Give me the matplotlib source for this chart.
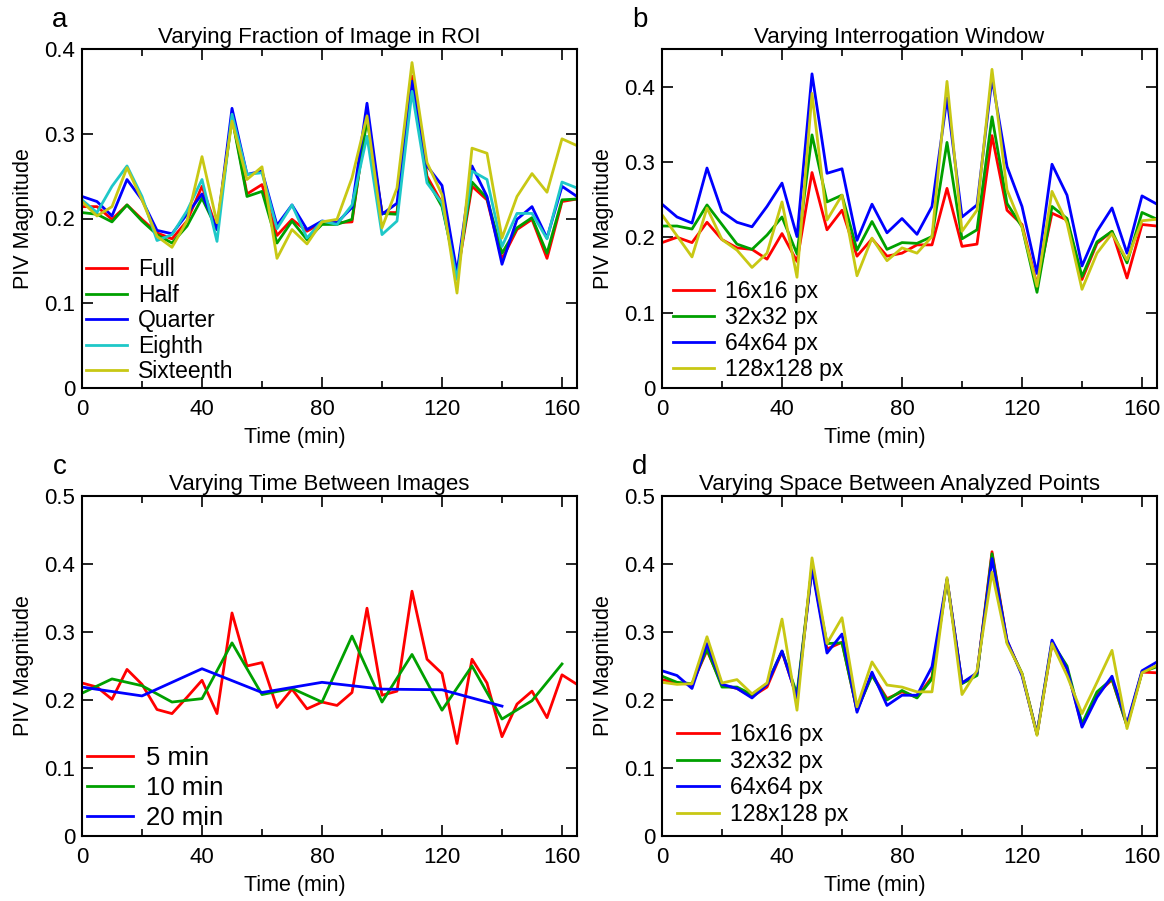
import matplotlib.pyplot as plt
from matplotlib.ticker import MultipleLocator, FuncFormatter

plt.rcParams['font.family'] = ['Liberation Sans', 'DejaVu Sans']

# Время, мин
time_5 = [0, 5, 10, 15, 20, 25, 30, 35, 40, 45, 50, 55, 60, 65, 70, 75, 80,
          85, 90, 95, 100, 105, 110, 115, 120, 125, 130, 135, 140, 145, 150, 155, 160, 165]
time_10 = [0, 10, 20, 30, 40, 50, 60, 70, 80, 90, 100, 110, 120, 130, 140, 150, 160]
time_20 = [0, 20, 40, 60, 80, 100, 120, 140]

# a: доля изображения в ROI
roi_full = [0.214, 0.214, 0.199, 0.216, 0.199, 0.183, 0.176, 0.197, 0.238, 0.187, 0.321, 0.229, 0.240, 0.180, 0.199, 0.185, 0.195,
            0.195, 0.196, 0.321, 0.207, 0.207, 0.368, 0.250, 0.218, 0.132, 0.238, 0.222, 0.152, 0.187, 0.199, 0.153, 0.220, 0.223]
roi_half = [0.207, 0.205, 0.196, 0.216, 0.197, 0.181, 0.171, 0.191, 0.224, 0.187, 0.319, 0.226, 0.232, 0.171, 0.197, 0.175, 0.193,
            0.193, 0.199, 0.317, 0.206, 0.205, 0.362, 0.246, 0.214, 0.134, 0.243, 0.224, 0.159, 0.189, 0.201, 0.159, 0.222, 0.223]
roi_quarter = [0.226, 0.220, 0.203, 0.246, 0.222, 0.186, 0.182, 0.205, 0.229, 0.187, 0.330, 0.252, 0.256, 0.192, 0.216, 0.187, 0.197,
               0.195, 0.213, 0.336, 0.205, 0.218, 0.362, 0.262, 0.239, 0.136, 0.262, 0.226, 0.146, 0.199, 0.214, 0.177, 0.238, 0.226]
roi_eighth = [0.222, 0.207, 0.238, 0.262, 0.226, 0.174, 0.181, 0.209, 0.246, 0.173, 0.323, 0.252, 0.254, 0.188, 0.216, 0.177, 0.197,
              0.193, 0.216, 0.297, 0.181, 0.197, 0.350, 0.242, 0.218, 0.128, 0.256, 0.246, 0.167, 0.206, 0.206, 0.176, 0.243, 0.236]
roi_sixteenth = [0.220, 0.203, 0.214, 0.260, 0.222, 0.179, 0.166, 0.197, 0.273, 0.195, 0.315, 0.246, 0.261, 0.153, 0.187, 0.170, 0.196,
                 0.199, 0.248, 0.321, 0.189, 0.236, 0.384, 0.266, 0.228, 0.112, 0.283, 0.277, 0.177, 0.226, 0.253, 0.231, 0.294, 0.286]

# b: окно корреляции
win_16 = [0.193, 0.200, 0.193, 0.220, 0.197, 0.186, 0.184, 0.171, 0.205, 0.168, 0.286, 0.210, 0.236, 0.175, 0.198, 0.175, 0.179,
          0.190, 0.190, 0.265, 0.188, 0.191, 0.335, 0.236, 0.217, 0.137, 0.232, 0.223, 0.144, 0.192, 0.208, 0.146, 0.217, 0.215]
win_32 = [0.215, 0.215, 0.211, 0.243, 0.217, 0.191, 0.184, 0.203, 0.227, 0.178, 0.336, 0.247, 0.256, 0.183, 0.221, 0.184, 0.193,
          0.192, 0.201, 0.326, 0.198, 0.210, 0.360, 0.245, 0.214, 0.127, 0.241, 0.225, 0.148, 0.194, 0.208, 0.166, 0.233, 0.224]
win_64 = [0.244, 0.227, 0.219, 0.292, 0.234, 0.220, 0.214, 0.241, 0.272, 0.201, 0.417, 0.285, 0.291, 0.196, 0.244, 0.206, 0.225,
          0.204, 0.241, 0.385, 0.227, 0.243, 0.411, 0.294, 0.241, 0.152, 0.297, 0.256, 0.162, 0.208, 0.239, 0.179, 0.255, 0.244]
win_128 = [0.230, 0.202, 0.174, 0.239, 0.197, 0.183, 0.160, 0.179, 0.247, 0.147, 0.391, 0.223, 0.256, 0.149, 0.199, 0.169, 0.186,
           0.179, 0.201, 0.407, 0.208, 0.236, 0.423, 0.263, 0.214, 0.135, 0.261, 0.219, 0.131, 0.179, 0.205, 0.170, 0.222, 0.224]

# c: интервал между кадрами
dt_5 = [0.225, 0.219, 0.201, 0.245, 0.223, 0.186, 0.180, 0.204, 0.229, 0.180, 0.328, 0.250, 0.255, 0.189, 0.216, 0.187, 0.197,
        0.192, 0.211, 0.335, 0.207, 0.213, 0.360, 0.260, 0.239, 0.136, 0.260, 0.225, 0.146, 0.194, 0.213, 0.174, 0.237, 0.223]
dt_10 = [0.210, 0.231, 0.221, 0.197, 0.202, 0.284, 0.208, 0.217, 0.197, 0.294, 0.197, 0.267, 0.185, 0.250, 0.172, 0.199, 0.253]
dt_20 = [0.219, 0.206, 0.246, 0.211, 0.226, 0.216, 0.215, 0.191]

# d: шаг между точками анализа
step_16 = [0.230, 0.225, 0.223, 0.273, 0.222, 0.217, 0.205, 0.219, 0.271, 0.204, 0.396, 0.275, 0.285, 0.185, 0.238, 0.202, 0.212,
           0.204, 0.234, 0.377, 0.225, 0.238, 0.418, 0.287, 0.238, 0.150, 0.282, 0.246, 0.162, 0.209, 0.230, 0.162, 0.241, 0.240]
step_32 = [0.235, 0.226, 0.224, 0.275, 0.219, 0.219, 0.208, 0.224, 0.272, 0.209, 0.396, 0.283, 0.284, 0.185, 0.236, 0.200, 0.214,
           0.203, 0.231, 0.376, 0.224, 0.236, 0.415, 0.285, 0.239, 0.150, 0.285, 0.250, 0.165, 0.212, 0.231, 0.162, 0.241, 0.249]
step_64 = [0.243, 0.236, 0.217, 0.283, 0.223, 0.217, 0.203, 0.223, 0.272, 0.203, 0.393, 0.269, 0.297, 0.182, 0.241, 0.192, 0.207,
           0.207, 0.249, 0.378, 0.225, 0.240, 0.408, 0.288, 0.236, 0.150, 0.288, 0.246, 0.160, 0.204, 0.235, 0.165, 0.243, 0.256]
step_128 = [0.226, 0.223, 0.224, 0.293, 0.225, 0.230, 0.209, 0.225, 0.319, 0.185, 0.409, 0.283, 0.321, 0.190, 0.256, 0.222, 0.219,
            0.212, 0.212, 0.380, 0.208, 0.243, 0.388, 0.283, 0.239, 0.148, 0.283, 0.236, 0.180, 0.226, 0.273, 0.158, 0.240, 0.251]

RED = '#ff0000'
GREEN = '#00a000'
BLUE = '#0000ff'
CYAN = '#1ec8c8'
YELLOW = '#c8c814'

W, H = 1164, 901


def make_axes(fig, left, top, right, bottom):
    # координаты в пикселях -> доли фигуры
    return fig.add_axes([left / W, 1 - bottom / H, (right - left) / W, (bottom - top) / H])


def style_axes(ax, title, letter, ymax, ytop):
    ax.set_xlim(0, 165)
    ax.set_ylim(0, ymax)
    ax.xaxis.set_major_locator(MultipleLocator(40))
    ax.xaxis.set_minor_locator(MultipleLocator(20))
    ax.set_yticks([v / 10 for v in range(int(round(ytop * 10)) + 1)])
    ax.yaxis.set_major_formatter(FuncFormatter(lambda v, p: '0' if v == 0 else '%.1f' % v))
    ax.tick_params(which='both', direction='in', top=True, right=True, labelsize=16, width=1.2)
    ax.tick_params(which='major', length=8)
    ax.tick_params(axis='x', which='major', pad=8)
    ax.tick_params(axis='y', which='major', pad=5)
    ax.tick_params(which='minor', length=5)
    for s in ax.spines.values():
        s.set_linewidth(1.5)
    ax.set_title(title, fontsize=16, pad=4, x=0.48)
    ax.set_xlabel('Time (min)', fontsize=15.5, labelpad=5, x=0.43)
    ax.set_ylabel('PIV Magnitude', fontsize=15.5, labelpad=7)
    ax.text(-0.045, 1.065, letter, transform=ax.transAxes, fontsize=20, ha='center', va='baseline')


def add_legend(ax, fontsize, x0, y0, labelspacing):
    ax.legend(loc='lower left', bbox_to_anchor=(x0, y0), frameon=False, fontsize=fontsize,
              handlelength=1.8, handletextpad=0.5, labelspacing=labelspacing,
              borderaxespad=0.1, borderpad=0.1)


fig = plt.figure(figsize=(W / 100, H / 100), dpi=100)
lw = 2.0

ax = make_axes(fig, 82, 49, 577, 388)
ax.plot(time_5, roi_full, color=RED, lw=lw, label='Full')
ax.plot(time_5, roi_half, color=GREEN, lw=lw, label='Half')
ax.plot(time_5, roi_quarter, color=BLUE, lw=lw, label='Quarter')
ax.plot(time_5, roi_eighth, color=CYAN, lw=lw, label='Eighth')
ax.plot(time_5, roi_sixteenth, color=YELLOW, lw=lw, label='Sixteenth')
style_axes(ax, 'Varying Fraction of Image in ROI', 'a', 0.4, 0.4)
add_legend(ax, 16.5, -0.002, 0.0, 0.11)

ax = make_axes(fig, 662, 49, 1157, 388)
ax.plot(time_5, win_16, color=RED, lw=lw, label='16x16 px')
ax.plot(time_5, win_32, color=GREEN, lw=lw, label='32x32 px')
ax.plot(time_5, win_64, color=BLUE, lw=lw, label='64x64 px')
ax.plot(time_5, win_128, color=YELLOW, lw=lw, label='128x128 px')
style_axes(ax, 'Varying Interrogation Window', 'b', 0.45, 0.4)
add_legend(ax, 16.5, 0.012, 0.008, 0.12)

ax = make_axes(fig, 82, 496, 577, 836)
ax.plot(time_5, dt_5, color=RED, lw=lw, label='5 min')
ax.plot(time_10, dt_10, color=GREEN, lw=lw, label='10 min')
ax.plot(time_20, dt_20, color=BLUE, lw=lw, label='20 min')
style_axes(ax, 'Varying Time Between Images', 'c', 0.5, 0.5)
add_legend(ax, 18.5, 0.0, 0.004, 0.22)

ax = make_axes(fig, 662, 496, 1157, 836)
ax.plot(time_5, step_16, color=RED, lw=lw, label='16x16 px')
ax.plot(time_5, step_32, color=GREEN, lw=lw, label='32x32 px')
ax.plot(time_5, step_64, color=BLUE, lw=lw, label='64x64 px')
ax.plot(time_5, step_128, color=YELLOW, lw=lw, label='128x128 px')
style_axes(ax, 'Varying Space Between Analyzed Points', 'd', 0.5, 0.5)
add_legend(ax, 16.5, 0.022, 0.016, 0.16)

fig.savefig('out.png', dpi=100)
